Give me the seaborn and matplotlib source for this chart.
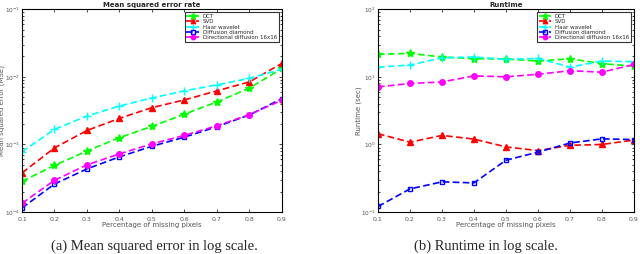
import matplotlib
matplotlib.use("Agg")
import matplotlib.pyplot as plt
import seaborn as sns
import pandas as pd

# Percentage of missing pixels
missing = [0.1, 0.2, 0.3, 0.4, 0.5, 0.6, 0.7, 0.8, 0.9]

methods = ["DCT", "SVD", "Haar wavelet", "Diffusion diamond", "Directional diffusion 16x16"]

# Mean squared error
mse_dct = [2.85e-4, 4.9e-4, 8.0e-4, 1.26e-3, 1.85e-3, 2.8e-3, 4.25e-3, 6.8e-3, 1.33e-2]
mse_svd = [3.8e-4, 8.9e-4, 1.61e-3, 2.43e-3, 3.5e-3, 4.55e-3, 6.2e-3, 8.4e-3, 1.58e-2]
mse_haar = [7.8e-4, 1.67e-3, 2.63e-3, 3.7e-3, 4.87e-3, 6.2e-3, 7.6e-3, 9.5e-3, 1.3e-2]
mse_diamond = [1.15e-4, 2.6e-4, 4.35e-4, 6.55e-4, 9.4e-4, 1.28e-3, 1.83e-3, 2.73e-3, 4.75e-3]
mse_direct = [1.35e-4, 2.95e-4, 5.0e-4, 7.25e-4, 1.02e-3, 1.36e-3, 1.89e-3, 2.76e-3, 4.5e-3]

# Runtime in seconds
rt_dct = [21.5, 22.2, 19.6, 18.5, 18.3, 17.1, 18.5, 15.6, 14.4]
rt_svd = [1.44, 1.08, 1.36, 1.2, 0.92, 0.81, 0.97, 1.0, 1.16]
rt_haar = [13.9, 14.9, 19.1, 19.6, 18.1, 18.7, 13.9, 17.1, 16.7]
rt_diamond = [0.121, 0.22, 0.28, 0.27, 0.585, 0.77, 1.05, 1.21, 1.18]
rt_direct = [7.1, 7.96, 8.4, 10.3, 10.0, 10.9, 12.3, 11.7, 15.2]

colors = ["#00ff00", "#ff0000", "#00ffff", "#0000ff", "#ff00ff"]
markers = ["*", "^", "+", "s", "o"]
marker_sizes = [6, 4, 6, 3, 4]
hollow = [False, False, False, True, False]

sns.set_style("ticks")
plt.rcParams["font.family"] = ["DejaVu Sans"]

fig = plt.figure(figsize=(6.4, 2.54), dpi=100)
ax1 = fig.add_axes([0.0344, 0.165, 0.406, 0.799])
ax2 = fig.add_axes([0.5906, 0.165, 0.400, 0.799])


def draw(ax, series, title, ylabel, ylim):
    for name, vals, c, m, ms, h in zip(methods, series, colors, markers, marker_sizes, hollow):
        df = pd.DataFrame({"x": missing, "y": vals})
        sns.lineplot(data=df, x="x", y="y", ax=ax, color=c, marker=m, markersize=ms,
                     markerfacecolor="none" if h else c, markeredgecolor=c,
                     markeredgewidth=1.0, linewidth=1.2, linestyle="--", label=name,
                     dashes=False)
        ax.lines[-1].set_dashes([4, 2])
    ax.set_yscale("log")
    ax.set_xlim(0.1, 0.9)
    ax.set_ylim(*ylim)
    ax.set_xticks(missing)
    ax.set_xticklabels([f"{v:.1f}" for v in missing])
    ax.tick_params(which="both", direction="in", top=True, right=True, labelsize=4.5,
                   labelcolor="#555555", width=0.6)
    ax.tick_params(axis="y", labelsize=4.2, pad=1.5)
    ax.tick_params(axis="x", pad=3.5)
    ax.tick_params(which="major", length=2.5)
    ax.tick_params(which="minor", length=1.5)
    for s in ax.spines.values():
        s.set_linewidth(0.8)
        s.set_color("black")
    ax.set_title(title, fontsize=5, fontweight="bold", pad=1.5)
    ax.set_xlabel("Percentage of missing pixels", fontsize=5, color="#555555", labelpad=0)
    ax.set_ylabel(ylabel, fontsize=5, color="#555555")
    ax.yaxis.set_label_coords(-0.064, 0.5)
    leg = ax.legend(loc="upper right", fontsize=4, frameon=True, fancybox=False,
                    edgecolor="black", borderpad=0.3, labelspacing=0.05,
                    handlelength=2.3, handletextpad=0.6, borderaxespad=0.6,
                    markerscale=0.8)
    leg.get_frame().set_linewidth(0.8)


draw(ax1, [mse_dct, mse_svd, mse_haar, mse_diamond, mse_direct],
     "Mean squared error rate", "Mean squared error (MSE)", (1e-4, 1e-1))
draw(ax2, [rt_dct, rt_svd, rt_haar, rt_diamond, rt_direct],
     "Runtime", "Runtime (sec)", (1e-1, 1e2))

fig.text(0.241, 0.03, "(a) Mean squared error in log scale.", ha="center", va="center",
         fontsize=10.5, family="Liberation Serif")
fig.text(0.759, 0.03, "(b) Runtime in log scale.", ha="center", va="center",
         fontsize=10.5, family="Liberation Serif")

fig.savefig("out.png", dpi=100)
